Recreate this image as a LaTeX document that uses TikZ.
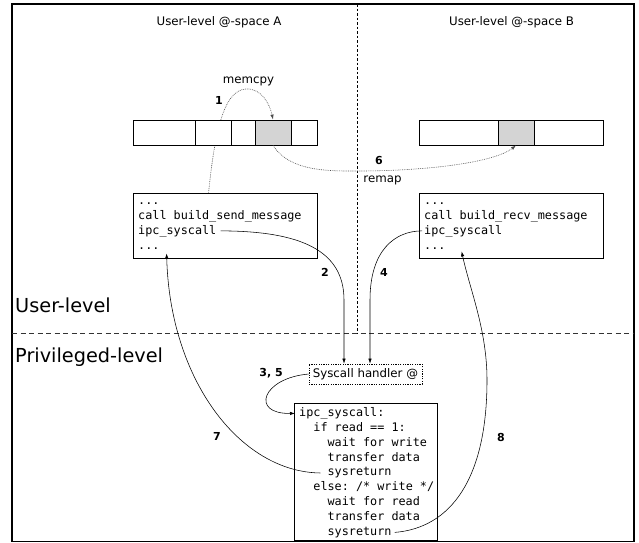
\documentclass[tikz,border=0pt]{standalone}
\usepackage{fontspec}
\setmainfont{DejaVu Sans}
\newfontfamily\codefont{DejaVu Sans Mono}
\usetikzlibrary{arrows.meta,calc}
\pgfdeclarelayer{background}
\pgfsetlayers{background,main}
\begin{document}
\frenchspacing
\begin{tikzpicture}[x=1pt,y=-1pt,
  lbl/.style={font=\fontsize{11.8}{14}\selectfont, inner sep=0pt},
  num/.style={font=\fontsize{11}{13}\selectfont\bfseries, inner sep=0pt},
  big/.style={font=\fontsize{19.3}{23}\selectfont, inner sep=0pt, anchor=west},
  codebox/.style={draw, line width=0.8pt, inner sep=0pt},
  code/.style={font=\codefont\fontsize{11.8}{15}\selectfont\frenchspacing, inner sep=0pt, anchor=base west},
  cell/.style={draw, line width=0.8pt, inner sep=0pt, minimum height=25pt, fill=white},
  conn/.style={line width=0.55pt, -{Latex[length=5pt,width=3.4pt]}},
  dotconn/.style={line width=0.6pt, black!70, dash pattern=on 0.8pt off 1pt, -{Latex[length=5pt,width=3.4pt]}},
]
\useasboundingbox (0,0) rectangle (639,542);
% frame and separators
\draw[line width=1.2pt] (12,4) rectangle (634,541.4);
\draw[black!80, line width=0.8pt, dash pattern=on 5pt off 3.5pt] (12,333) -- (634,333);
\draw[line width=0.7pt, dash pattern=on 2.5pt off 2pt] (357,4) -- (357,333);

% titles
\node[lbl] (tA) at (219,22) {User-level @-space A};
\node[lbl] (tB) at (511.5,22) {User-level @-space B};
\node[big] (ul) at (15,305) {User-level};
\node[big] (pl) at (15,357) {Privileged-level};

% buffers
\node[cell, minimum width=62pt] (a1c) at (164,132.5) {};
\node[cell, minimum width=36pt] (a2c) at (213,132.5) {};
\node[cell, minimum width=24pt] (a3c) at (243,132.5) {};
\node[cell, minimum width=36pt, fill=black!17] (cellA) at (273,132.5) {};
\node[cell, minimum width=26pt] (a5c) at (304,132.5) {};
\node[cell, minimum width=79pt] (b1c) at (458.5,132.5) {};
\node[cell, minimum width=36pt, fill=black!17] (cellB) at (516,132.5) {};
\node[cell, minimum width=69pt] (b3c) at (568.5,132.5) {};

% code box A
\node[codebox, minimum width=184pt, minimum height=65pt] (boxA) at (225,225.5) {};
\node[code] (a1l) at (138,204) {...};
\node[code] (a2l) at (138,219) {call build\_send\_message};
\node[code] (a3l) at (138,234) {ipc\_syscall};
\node[code] (a4l) at (138,249) {...};

% code box B
\node[codebox, minimum width=184pt, minimum height=65pt] (boxB) at (511,225.5) {};
\node[code] (b1l) at (424,204) {...};
\node[code] (b2l) at (424,219) {call build\_recv\_message};
\node[code] (b3l) at (424,234) {ipc\_syscall};
\node[code] (b4l) at (424,249) {...};

% syscall handler
\node[draw, dash pattern=on 1.2pt off 1.2pt, line width=0.6pt, minimum width=113pt,
      minimum height=20pt, inner sep=0pt, font=\fontsize{11.8}{14}\selectfont] (hdl) at (365.5,374) {Syscall handler @};

% code box C
\node[codebox, minimum width=143.4pt, minimum height=136.7pt] (boxC) at (366,471.7) {};
\node[code] (c1) at (299,416.5) {ipc\_syscall:};
\node[code] (c2) at (313.2,431.35) {if read == 1:};
\node[code] (c3) at (327.4,446.2) {wait for write};
\node[code] (c4) at (327.4,461.05) {transfer data};
\node[code] (c5) at (327.4,475.9) {sysreturn};
\node[code] (c6) at (313.2,490.75) {else: /* write */};
\node[code] (c7) at (327.4,505.6) {wait for read};
\node[code] (c8) at (327.4,520.45) {transfer data};
\node[code] (c9) at (327.4,535.3) {sysreturn};

% labels
\node[lbl] (mc) at (248.5,81) {memcpy};
\node[lbl] (rm) at (382.5,180) {remap};
\node[num] (n1) at (219,100) {1};
\node[num] (n6) at (379,160) {6};
\node[num] (n2) at (325,272) {2};
\node[num] (n4) at (384,272) {4};
\node[num] (n35) at (271,373) {3, 5};
\node[num] (n7) at (217,436) {7};
\node[num] (n8) at (501,437) {8};

% connectors
\begin{pgfonlayer}{background}
\draw[dotconn] ([xshift=76pt]boxA.north west) .. controls (214,140) and (222,90) .. (246,89)
   .. controls (262,88) and (270,105) .. (cellA.north);
\end{pgfonlayer}
\draw[dotconn] (cellA.south) .. controls (290,172) and (330,171) .. (357,171)
   .. controls (430,171) and (495,162) .. (cellB.south);
\draw[conn] ([xshift=4pt]a3l.east) .. controls (300,231) and (344,250) .. (344,300) -- ([xshift=-21.5pt]hdl.north);
\draw[conn] ([xshift=-2pt]b3l.west) .. controls (395,231) and (370,250) .. (370,300) -- ([xshift=4.5pt]hdl.north);
\draw[conn] (hdl.west) .. controls (262,378) and (250,414) .. ([xshift=-4pt]c1.west);
\draw[conn] ([xshift=-7pt]c5.west) .. controls (240,472) and (170,380) .. ([xshift=34pt,yshift=5pt]boxA.south west);
\draw[conn] ([xshift=3pt]c9.east) .. controls (450,528) and (487,480) .. (487,380)
   .. controls (487,330) and (470,290) .. ([xshift=43pt,yshift=7pt]boxB.south west);
\end{tikzpicture}
\end{document}
